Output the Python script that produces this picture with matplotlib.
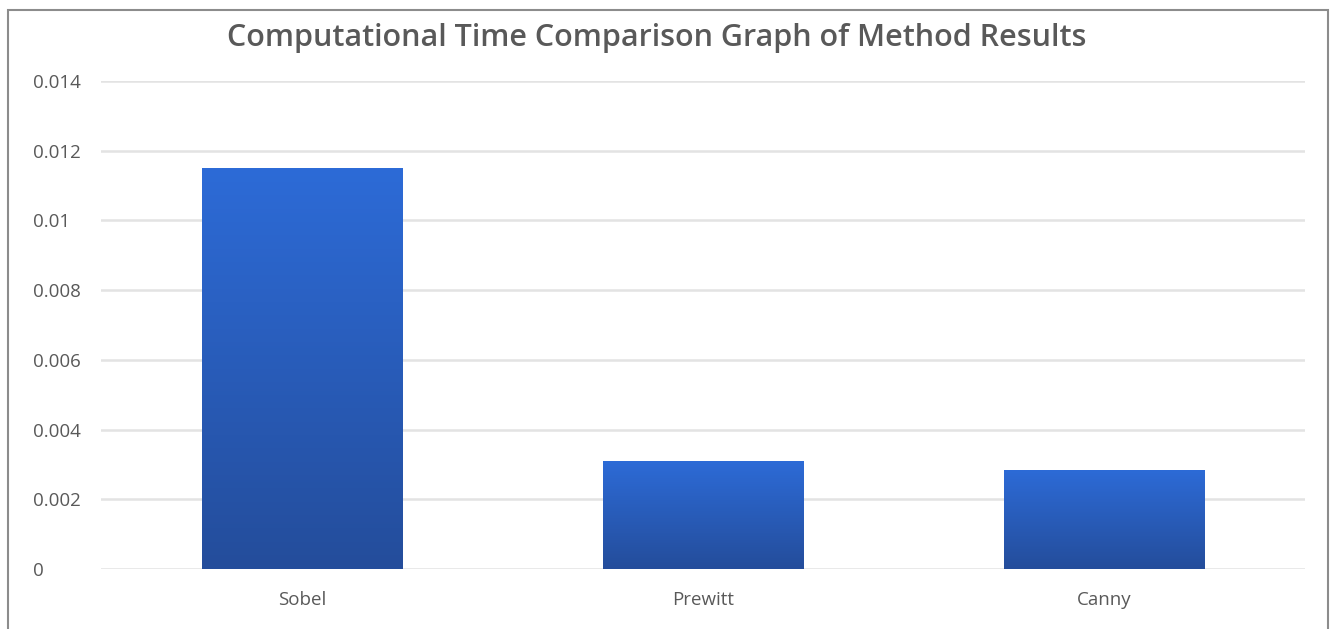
import matplotlib.pyplot as plt
import numpy as np
from matplotlib.colors import LinearSegmentedColormap
from matplotlib.patches import Rectangle

methods = ['Sobel', 'Prewitt', 'Canny']
times = [0.0115, 0.0031, 0.00285]
yticks = [0, 0.002, 0.004, 0.006, 0.008, 0.01, 0.012, 0.014]
ylabels = ['0', '0.002', '0.004', '0.006', '0.008', '0.01', '0.012', '0.014']

plt.rcParams['font.family'] = ['Open Sans', 'DejaVu Sans']

fig = plt.figure(figsize=(13.33, 6.29), dpi=100)
ax = fig.add_axes([0.0761, 0.0954, 0.9029, 0.7758])

# gradient fill, darker at the bottom like the Excel style
cmap = LinearSegmentedColormap.from_list('blues', ['#244D9B', '#2D6BD7'])
grad = np.linspace(0, 1, 256).reshape(-1, 1)
x = np.arange(len(methods))
bars = ax.bar(x, times, width=0.5, color='none', edgecolor='none', zorder=3)
for b in bars:
    x0, y0 = b.get_x(), b.get_y()
    w, h = b.get_width(), b.get_height()
    im = ax.imshow(grad, cmap=cmap, aspect='auto', origin='lower',
                   extent=[x0, x0 + w, y0, y0 + h], zorder=3)
    im.set_clip_path(b)

ax.set_xlim(-0.5, 2.5)
ax.set_ylim(0, 0.014)
ax.set_xticks(x)
ax.set_xticklabels(methods, fontsize=13.5, color='#595959')
ax.set_yticks(yticks)
ax.set_yticklabels(ylabels, fontsize=13.5, color='#595959', ha='left')
ax.tick_params(axis='y', length=0, pad=49.3)
ax.tick_params(axis='x', length=0, pad=16)
ax.yaxis.grid(True, color='#E3E3E3', linewidth=1.8, zorder=0)
ax.set_axisbelow(True)
for s in ax.spines.values():
    s.set_visible(False)

fig.text(0.493, 0.94, 'Computational Time Comparison Graph of Method Results',
         ha='center', va='center', fontsize=22, fontweight='semibold', color='#595959')

# chart frame
fig.patches.append(Rectangle((0.006, -0.05), 0.99, 1.034, transform=fig.transFigure,
                             fill=False, edgecolor='#8C8C8C', linewidth=1.5))

fig.savefig('out.png', dpi=100)
